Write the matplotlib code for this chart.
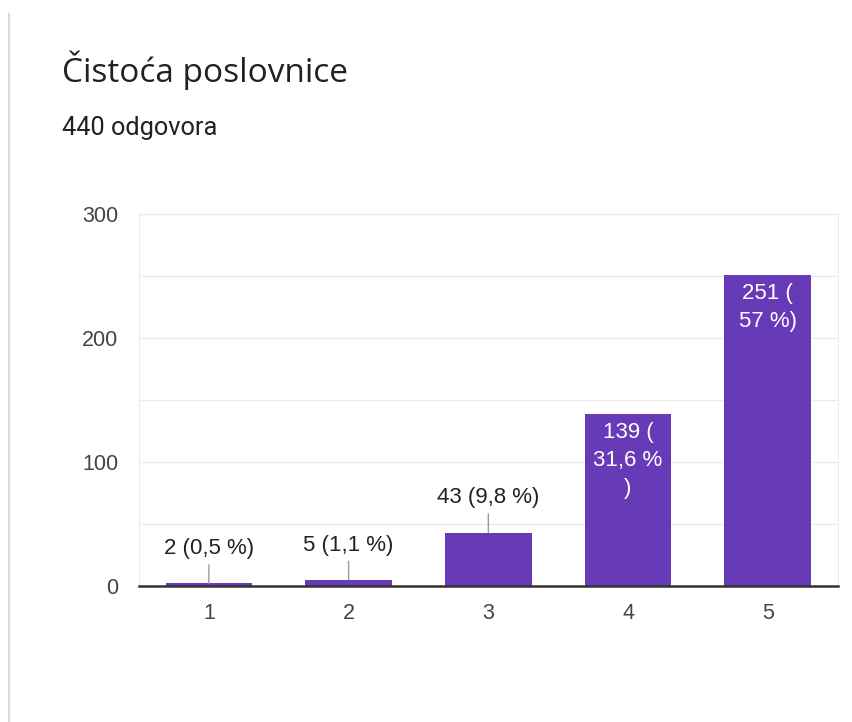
import matplotlib.pyplot as plt
from matplotlib.lines import Line2D

title = 'Čistoća poslovnice'
subtitle = '440 odgovora'
categories = ['1', '2', '3', '4', '5']
counts = [2, 5, 43, 139, 251]
labels = ['2 (0,5 %)', '5 (1,1 %)', '43 (9,8 %)', '139 (\n31,6 %\n)', '251 (\n57 %)']
inside = [False, False, False, True, True]

purple = '#673ab7'

plt.rcParams['font.family'] = ['Liberation Sans', 'DejaVu Sans']

fig = plt.figure(figsize=(8.53, 7.22), dpi=100)
ax = fig.add_axes([0.163, 0.1884, 0.819, 0.5152])

x = range(1, len(counts) + 1)
ax.bar(x, counts, width=0.62, color=purple, zorder=3)

ax.set_xlim(0.5, 5.5)
ax.set_ylim(0, 300)
ax.set_yticks([0, 100, 200, 300])
ax.set_yticks([50, 150, 250], minor=True)
ax.set_xticks(list(x))
ax.set_xticklabels(categories)
ax.tick_params(axis='both', which='both', length=0, labelsize=15.5, colors='#444444')
ax.tick_params(axis='y', pad=15)
ax.tick_params(axis='x', pad=12)
ax.grid(axis='y', which='both', color='#ebebeb', lw=1, zorder=0)

for side in ['left', 'right', 'top']:
    ax.spines[side].set_color('#ebebeb')
ax.spines['bottom'].set_color('#333333')
ax.spines['bottom'].set_linewidth(1.8)
ax.spines['bottom'].set_zorder(4)

for xi, c, lab, ins in zip(x, counts, labels, inside):
    if ins:
        ax.annotate(lab, (xi, c), xytext=(0, -6), textcoords='offset points',
                    ha='center', va='top', color='white', fontsize=16,
                    linespacing=1.45, zorder=5)
    else:
        ax.annotate(lab, (xi, c), xytext=(0, 25), textcoords='offset points',
                    ha='center', va='center', color='#222222', fontsize=16,
                    arrowprops=dict(arrowstyle='-', color='#999999', lw=1,
                                    shrinkA=2, shrinkB=0), zorder=5)

fig.text(62 / 853, 1 - 70 / 722, title, fontsize=24, color='#202124',
         family=['Open Sans', 'DejaVu Sans'], va='center', ha='left')
fig.text(62 / 853, 1 - 128 / 722, subtitle, fontsize=18.3, color='#202124',
         family=['Roboto', 'DejaVu Sans'], va='center', ha='left')

# grey page border on the left
fig.add_artist(Line2D([9 / 853, 9 / 853], [0, 1 - 14 / 722], color='#dadce0', lw=1.5))

fig.savefig('out.png', dpi=100)
